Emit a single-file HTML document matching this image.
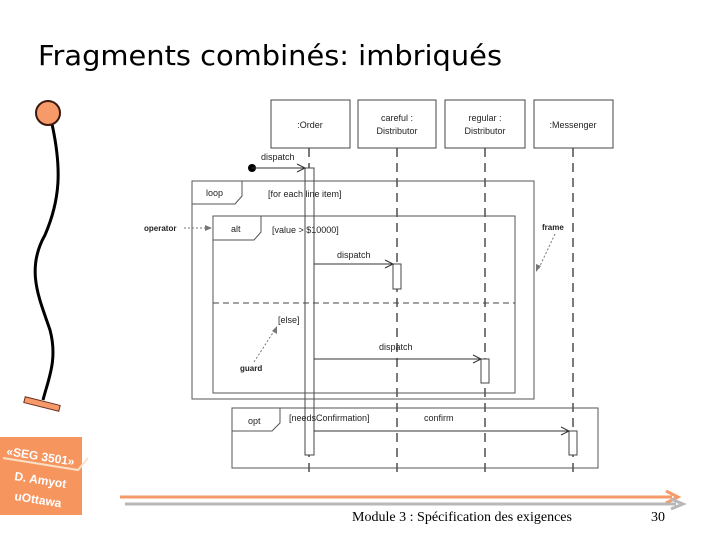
<!DOCTYPE html>
<html><head><meta charset="utf-8"><style>
html,body{margin:0;padding:0;background:#fff;}
body{width:720px;height:540px;position:relative;overflow:hidden;}
</style></head><body>
<svg width="720" height="540" viewBox="0 0 720 540" xmlns="http://www.w3.org/2000/svg" style="position:absolute;left:0;top:0">
<text x="38" y="65" font-family="DejaVu Sans, sans-serif" font-size="28" fill="#000" textLength="464" lengthAdjust="spacingAndGlyphs">Fragments combinés: imbriqués</text>

<!-- stick figure -->
<path d="M52,124 C62,170 60,200 45,235 C25,270 40,300 50,330 C58,360 48,380 43,400" fill="none" stroke="#000" stroke-width="3"/>
<circle cx="48" cy="113" r="12" fill="#f59a68" stroke="#3a1a10" stroke-width="2"/>
<g transform="rotate(14 42 404)"><rect x="24" y="401" width="36" height="6" fill="#f59a68" stroke="#6a3020" stroke-width="1"/></g>

<!-- badge -->
<rect x="0" y="437" width="82" height="78" fill="#f7955f"/>
<polyline points="3,458 78,470 88,458" fill="none" stroke="#fbe0c8" stroke-width="2"/>
<g font-family="Liberation Sans, sans-serif" font-weight="bold" font-size="12" fill="#fff">
<text x="6" y="455" transform="rotate(9 6 455)">«SEG 3501»</text>
<text x="14" y="480" transform="rotate(9 14 480)">D. Amyot</text>
<text x="14" y="500" transform="rotate(9 14 500)">uOttawa</text>
</g>

<!-- bottom arrows -->
<line x1="120" y1="497" x2="672" y2="497" stroke="#f59a68" stroke-width="3"/>
<path d="M666,491 L678,497 L666,503" fill="none" stroke="#f59a68" stroke-width="3"/>
<line x1="125" y1="504" x2="676" y2="504" stroke="#b8b8b8" stroke-width="3"/>
<path d="M671,499 L683,504 L671,509" fill="none" stroke="#b8b8b8" stroke-width="3"/>
<text x="352" y="521" font-family="Liberation Serif, serif" font-size="14" fill="#000" textLength="220" lengthAdjust="spacingAndGlyphs">Module 3 : Spécification des exigences</text>
<text x="651" y="521" font-family="Liberation Serif, serif" font-size="14" fill="#000">30</text>

<!-- diagram -->
<g font-family="Liberation Sans, sans-serif" font-size="9" fill="#222" stroke-width="1">
<rect x="271" y="100" width="79" height="48" fill="#fff" stroke="#444"/>
<rect x="358" y="100" width="78" height="48" fill="#fff" stroke="#444"/>
<rect x="445" y="100" width="80" height="48" fill="#fff" stroke="#444"/>
<rect x="534" y="100" width="79" height="48" fill="#fff" stroke="#444"/>
<text x="310" y="128" text-anchor="middle">:Order</text>
<text x="397" y="121" text-anchor="middle">careful :</text>
<text x="397" y="134" text-anchor="middle">Distributor</text>
<text x="485" y="121" text-anchor="middle">regular :</text>
<text x="485" y="134" text-anchor="middle">Distributor</text>
<text x="573" y="128" text-anchor="middle">:Messenger</text>
<g stroke="#333" stroke-width="1.3" stroke-dasharray="9,6">
<line x1="309" y1="148" x2="309" y2="478"/>
<line x1="397" y1="148" x2="397" y2="478"/>
<line x1="485" y1="148" x2="485" y2="478"/>
<line x1="573" y1="148" x2="573" y2="478"/>
</g>
<!-- activation bars -->
<rect x="305" y="168" width="9" height="287" fill="#fff" stroke="#444"/>
<rect x="393" y="264" width="8" height="25" fill="#fff" stroke="#444"/>
<rect x="481" y="359" width="8" height="24" fill="#fff" stroke="#444"/>
<rect x="569" y="431" width="8" height="24" fill="#fff" stroke="#444"/>
<!-- frames -->
<rect x="192" y="181" width="342" height="218" fill="none" stroke="#555"/>
<path d="M192,204 L235,204 L242,196 L242,181" fill="none" stroke="#555"/>
<text x="206" y="196">loop</text>
<text x="268" y="197">[for each line item]</text>
<rect x="213" y="216" width="302" height="177" fill="none" stroke="#555"/>
<path d="M213,240 L254,240 L261,232 L261,216" fill="none" stroke="#555"/>
<text x="231" y="232">alt</text>
<text x="272" y="233">[value &gt; $10000]</text>
<line x1="213" y1="303" x2="515" y2="303" stroke="#444" stroke-dasharray="6,4"/>
<text x="278" y="323">[else]</text>
<rect x="232" y="408" width="366" height="60" fill="none" stroke="#555"/>
<path d="M232,431 L272,431 L280,423 L280,408" fill="none" stroke="#555"/>
<text x="248" y="424">opt</text>
<text x="289" y="421">[needsConfirmation]</text>
<text x="424" y="421">confirm</text>
<!-- messages -->
<circle cx="252" cy="168" r="4" fill="#000"/>
<line x1="252" y1="168" x2="305" y2="168" stroke="#333"/>
<path d="M297,164 L305,168 L297,172" fill="none" stroke="#333"/>
<text x="261" y="160">dispatch</text>
<line x1="314" y1="264" x2="393" y2="264" stroke="#333"/>
<path d="M385,260 L393,264 L385,268" fill="none" stroke="#333"/>
<text x="337" y="258">dispatch</text>
<line x1="314" y1="359" x2="481" y2="359" stroke="#333"/>
<path d="M473,355 L481,359 L473,363" fill="none" stroke="#333"/>
<text x="379" y="350">dispatch</text>
<line x1="314" y1="431" x2="569" y2="431" stroke="#333"/>
<path d="M561,427 L569,431 L561,435" fill="none" stroke="#333"/>
<g font-weight="bold" font-size="8">
<text x="144" y="231">operator</text>
<text x="542" y="230">frame</text>
<text x="240" y="371">guard</text>
</g>
<g stroke="#777" stroke-dasharray="2,2" fill="none">
<line x1="184" y1="228" x2="210" y2="228"/>
<line x1="555" y1="234" x2="538" y2="270"/>
<line x1="254" y1="362" x2="276" y2="328"/>
</g>
<path d="M205,225 L212,228 L205,231 Z" fill="#777"/>
<path d="M536,272 L536,264 L541,266 Z" fill="#777"/>
<path d="M277,326 L277,334 L272,331 Z" fill="#777"/>
</g>
</svg>
</body></html>
